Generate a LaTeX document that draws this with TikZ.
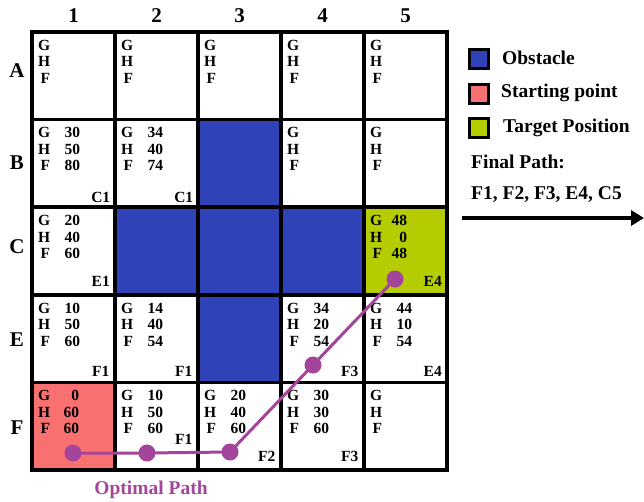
\documentclass[tikz,border=0pt]{standalone}
\usepackage{fontspec}
\setmainfont{Liberation Serif}
\usetikzlibrary{calc,arrows.meta}
\definecolor{obst}{RGB}{48,66,184}
\definecolor{startc}{RGB}{248,112,112}
\definecolor{targc}{RGB}{181,204,0}
\definecolor{pathc}{RGB}{163,70,155}
\tikzset{
  cellbox/.style={draw=black, line width=3.5pt, fill=white, minimum width=83pt, minimum height=87.6pt, inner sep=0pt},
  ctxt/.style={inner sep=0pt, font=\fontsize{15.5}{17}\selectfont\bfseries},
  ntxt/.style={ctxt, anchor=east},
  axislbl/.style={inner sep=0pt, font=\fontsize{21}{24}\selectfont\bfseries},
  legbox/.style={draw=black, line width=2.5pt, minimum width=19pt, minimum height=19pt, inner sep=0pt},
  legtxt/.style={inner sep=0pt, anchor=west, font=\fontsize{19.5}{22}\selectfont\bfseries},
  pdot/.style={circle, fill=pathc, minimum size=17pt, inner sep=0pt},
  pline/.style={draw=pathc, line width=3pt}
}
\newcommand{\cellletters}[1]{%
  \node[ctxt] (#1G) at ($(#1.north west)+(14,15)$) {G};
  \node[ctxt] (#1H) at ($(#1.north west)+(14,31.5)$) {H};
  \node[ctxt] (#1F) at ($(#1.north west)+(15,48)$) {F};}
\newcommand{\cellnums}[5]{%
  \node[ntxt] (#1g) at ($(#1.north west)+(#5,15)$) {#2};
  \node[ntxt] (#1h) at ($(#1.north west)+(#5,31.5)$) {#3};
  \node[ntxt] (#1f) at ($(#1.north west)+(#5,48)$) {#4};}
\newcommand{\cellfrom}[3]{%
  \node[ctxt] (#1p) at ($(#1.south east)+(-16,-#3)$) {#2};}
\begin{document}
\begin{tikzpicture}[x=1pt,y=-1pt]
\useasboundingbox (0,0) rectangle (644,502);
% column labels
\node[axislbl] (k1) at (73.5,16) {1};
\node[axislbl] (k2) at (156.5,16) {2};
\node[axislbl] (k3) at (239.5,16) {3};
\node[axislbl] (k4) at (322.5,16) {4};
\node[axislbl] (k5) at (405.5,16) {5};
% row labels
\node[axislbl] (rA) at (17,71) {A};
\node[axislbl] (rB) at (17,163) {B};
\node[axislbl] (rC) at (17,247) {C};
\node[axislbl] (rE) at (17,340) {E};
\node[axislbl] (rF) at (17,428) {F};
% cells
\node[cellbox] (A1) at (73.5,75.8) {};
\node[cellbox] (A2) at (156.5,75.8) {};
\node[cellbox] (A3) at (239.5,75.8) {};
\node[cellbox] (A4) at (322.5,75.8) {};
\node[cellbox] (A5) at (405.5,75.8) {};
\node[cellbox] (B1) at (73.5,163.4) {};
\node[cellbox] (B2) at (156.5,163.4) {};
\node[cellbox, fill=obst] (B3) at (239.5,163.4) {};
\node[cellbox] (B4) at (322.5,163.4) {};
\node[cellbox] (B5) at (405.5,163.4) {};
\node[cellbox] (C1) at (73.5,251) {};
\node[cellbox, fill=obst] (C2) at (156.5,251) {};
\node[cellbox, fill=obst] (C3) at (239.5,251) {};
\node[cellbox, fill=obst] (C4) at (322.5,251) {};
\node[cellbox, fill=targc] (C5) at (405.5,251) {};
\node[cellbox] (E1) at (73.5,338.6) {};
\node[cellbox] (E2) at (156.5,338.6) {};
\node[cellbox, fill=obst] (E3) at (239.5,338.6) {};
\node[cellbox] (E4) at (322.5,338.6) {};
\node[cellbox] (E5) at (405.5,338.6) {};
\node[cellbox, fill=startc] (F1) at (73.5,426.2) {};
\node[cellbox] (F2) at (156.5,426.2) {};
\node[cellbox] (F3) at (239.5,426.2) {};
\node[cellbox] (F4) at (322.5,426.2) {};
\node[cellbox] (F5) at (405.5,426.2) {};
% cell texts
\cellletters{A1}\cellletters{A2}\cellletters{A3}\cellletters{A4}\cellletters{A5}
\cellletters{B1}\cellnums{B1}{30}{50}{80}{50}\cellfrom{B1}{C1}{12}
\cellletters{B2}\cellnums{B2}{34}{40}{74}{50}\cellfrom{B2}{C1}{12}
\cellletters{B4}\cellletters{B5}
\cellletters{C1}\cellnums{C1}{20}{40}{60}{50}\cellfrom{C1}{E1}{15}
\cellletters{C5}\cellnums{C5}{48}{0}{48}{45}\cellfrom{C5}{E4}{15}
\cellletters{E1}\cellnums{E1}{10}{50}{60}{50}\cellfrom{E1}{F1}{13}
\cellletters{E2}\cellnums{E2}{14}{40}{54}{50}\cellfrom{E2}{F1}{13}
\cellletters{E4}\cellnums{E4}{34}{20}{54}{50}\cellfrom{E4}{F3}{13}
\cellletters{E5}\cellnums{E5}{44}{10}{54}{50}\cellfrom{E5}{E4}{13}
\cellletters{F1}\cellnums{F1}{0}{60}{60}{49}
\cellletters{F2}\cellnums{F2}{10}{50}{60}{50}\cellfrom{F2}{F1}{32}
\cellletters{F3}\cellnums{F3}{20}{40}{60}{50}\cellfrom{F3}{F2}{15}
\cellletters{F4}\cellnums{F4}{30}{30}{60}{50}\cellfrom{F4}{F3}{15}
\cellletters{F5}
% optimal path
\node[pdot] (d1) at (73,453) {};
\node[pdot] (d2) at (147,453) {};
\node[pdot] (d3) at (230,452) {};
\node[pdot] (d4) at (313,365) {};
\node[pdot] (d5) at (395,279) {};
\draw[pline] (d1.center) -- (d2.center) -- (d3.center) -- (d4.center) -- (d5.center);
\node[inner sep=0pt, text=pathc, font=\fontsize{19.5}{22}\selectfont\bfseries] (opt) at (151,490) {Optimal Path};
% legend
\node[legbox, fill=obst] (l1) at (479,59) {};
\node[legbox, fill=startc] (l2) at (479,94) {};
\node[legbox, fill=targc] (l3) at (479,128) {};
\node[legtxt] (t1) at (502,58) {Obstacle};
\node[legtxt] (t2) at (501,93) {Starting point};
\node[legtxt] (t3) at (503,128) {Target Position};
\node[legtxt] (fp) at (471,162) {Final Path:};
\node[legtxt] (fl) at (471,195) {F1, F2, F3, E4, C5};
\coordinate (a1) at (462,218);
\coordinate (a2) at (644,218);
\draw[line width=3.5pt, -{Triangle[length=13pt,width=15pt]}] (a1) -- (a2);
\end{tikzpicture}
\end{document}
